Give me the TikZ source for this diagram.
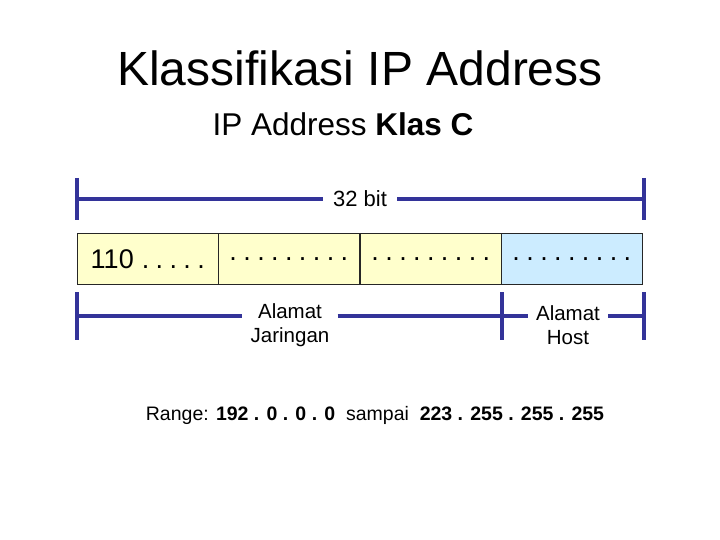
\documentclass[tikz,border=0pt]{standalone}
\usepackage{fontspec}
\setmainfont{Liberation Sans}
\newcommand{\dsp}{\hspace{6.4pt}}
\newcommand{\dfive}{.\dsp.\dsp.\dsp.\dsp.}
\newcommand{\dnine}{.\dsp.\dsp.\dsp.\dsp.\dsp.\dsp.\dsp.\dsp.}
\begin{document}
\begin{tikzpicture}[x=1pt,y=-1pt,
  bar/.style={draw={rgb,255:red,51;green,51;blue,153},line width=3.5pt},
  cell/.style={draw=black!85,line width=0.6pt,minimum width=141pt,minimum height=51pt,inner sep=0pt,anchor=north west,font=\fontsize{27}{30}\selectfont},
  lab/.style={font=\fontsize{20.5}{24}\selectfont,align=center}]
\useasboundingbox (0,0) rectangle (720,540);
\node (title) at (360,68) {\fontsize{48}{54}\selectfont Klassifikasi IP Address};
\node (sub) at (343,124) {\fontsize{31.5}{36}\selectfont IP Address \textbf{Klas C}};
% top bar
\coordinate (tl1) at (77,178); \coordinate (tl2) at (77,220);
\coordinate (tr1) at (644,178); \coordinate (tr2) at (644,220);
\coordinate (tla) at (77,199); \coordinate (tra) at (644,199);
\node[font=\fontsize{22}{26}\selectfont,inner xsep=10pt] (bit) at (360,199) {32 bit};
\draw[bar] (tl1) -- (tl2); \draw[bar] (tr1) -- (tr2);
\draw[bar] (tla) -- (bit.west |- tla); \draw[bar] (bit.east |- tra) -- (tra);
% cells
\node[cell,fill={rgb,255:red,255;green,255;blue,204}] (c1) at (77,233) {110\hspace{8pt}\dfive};
\node[cell,fill={rgb,255:red,255;green,255;blue,204}] (c2) at (218,233) {\dnine};
\node[cell,fill={rgb,255:red,255;green,255;blue,204}] (c3) at (360,233) {\dnine};
\node[cell,fill={rgb,255:red,204;green,236;blue,255}] (c4) at (501,233) {\dnine};
% bottom bars
\coordinate (bl1) at (77,292); \coordinate (bl2) at (77,340);
\coordinate (bm1) at (502,292); \coordinate (bm2) at (502,340);
\coordinate (br1) at (644,292); \coordinate (br2) at (644,340);
\coordinate (bla) at (77,316); \coordinate (bma) at (502,316); \coordinate (bra) at (644,316);
\node[lab,inner xsep=8pt] (jar) at (290,325) {Alamat\\Jaringan};
\node[lab,inner xsep=8pt] (host) at (568,325) {Alamat\\Host};
\draw[bar] (bl1) -- (bl2); \draw[bar] (bm1) -- (bm2); \draw[bar] (br1) -- (br2);
\draw[bar] (bla) -- (jar.west |- bla); \draw[bar] (jar.east |- bla) -- (bma);
\draw[bar] (bma) -- (host.west |- bma); \draw[bar] (host.east |- bma) -- (bra);
\node[font=\fontsize{19.5}{23}\selectfont] (range) at (375,415) {Range: \textbf{192 . 0 . 0 . 0} \ sampai \ \textbf{223 . 255 . 255 . 255}};
\end{tikzpicture}
\end{document}
